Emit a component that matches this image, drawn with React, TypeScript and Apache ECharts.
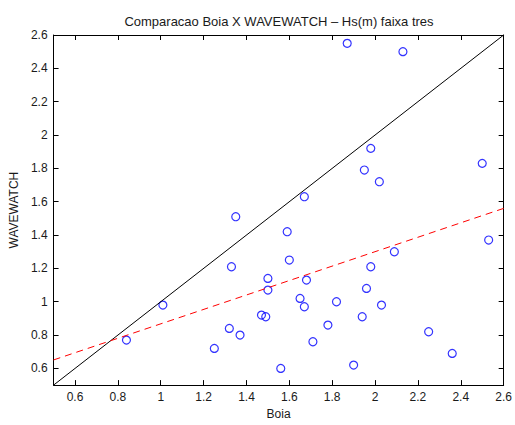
import React, { useEffect, useRef } from "react";
import * as echarts from "echarts";

const titleText = "Comparacao Boia X WAVEWATCH \u2013 Hs(m) faixa tres";
const xName = "Boia";
const yName = "WAVEWATCH";

const boia = [0.84, 1.01, 1.25, 1.32, 1.37, 1.35, 1.33, 1.5, 1.5, 1.68, 1.96, 1.65, 1.67, 1.82, 2.03, 1.47, 1.49, 1.94, 1.78, 2.25, 1.71, 2.36, 1.9, 1.56, 1.98, 1.95, 2.02, 2.5, 1.67, 1.59, 1.6, 2.09, 1.98, 2.53, 1.87, 2.13];
const wavewatch = [0.77, 0.98, 0.72, 0.84, 0.8, 1.51, 1.21, 1.14, 1.07, 1.13, 1.08, 1.02, 0.97, 1.0, 0.98, 0.92, 0.91, 0.91, 0.86, 0.82, 0.76, 0.69, 0.62, 0.6, 1.92, 1.79, 1.72, 1.83, 1.63, 1.42, 1.25, 1.3, 1.21, 1.37, 2.55, 2.5];

const idealX = [0.5, 2.6];
const idealY = [0.5, 2.6];
const fitX = [0.5, 2.6];
const fitY = [0.651, 1.56];

const xTicks = [0.6, 0.8, 1, 1.2, 1.4, 1.6, 1.8, 2, 2.2, 2.4, 2.6];
const yTicks = [0.6, 0.8, 1, 1.2, 1.4, 1.6, 1.8, 2, 2.2, 2.4, 2.6];

const FONT = "'Liberation Sans', Arial, Helvetica, sans-serif";
const TXT = "#1a1a1a";

export default function App() {
  const ref = useRef<HTMLDivElement>(null);
  useEffect(() => {
    if (!ref.current) return;
    const chart = echarts.init(ref.current, null, { renderer: "svg" });
    const axisCommon = {
      type: "value" as const,
      min: 0.5,
      max: 2.6,
      splitLine: { show: false },
      axisLine: { show: true, onZero: false, lineStyle: { color: "#000", width: 1 } },
    };
    chart.setOption({
      animation: false,
      backgroundColor: "#fff",
      textStyle: { fontFamily: FONT },
      grid: { left: 52, right: 9, top: 35, bottom: 32, containLabel: false },
      graphic: [
        {
          type: "text",
          x: 279,
          y: 21,
          style: {
            text: titleText,
            font: `13px ${FONT}`,
            fill: TXT,
            textAlign: "center",
            textVerticalAlign: "middle",
          },
        },
      ],
      xAxis: [
        {
          ...axisCommon,
          position: "bottom",
          name: xName,
          nameLocation: "middle",
          nameGap: 20,
          nameTextStyle: { fontSize: 12, color: TXT, fontFamily: FONT },
          axisTick: { show: true, inside: true, length: 5, customValues: xTicks, lineStyle: { color: "#000" } },
          axisLabel: { show: true, margin: 6, fontSize: 12, color: TXT, fontFamily: FONT, customValues: xTicks, showMaxLabel: true, showMinLabel: true },
        },
        {
          ...axisCommon,
          position: "top",
          axisTick: { show: true, inside: true, length: 5, customValues: xTicks, lineStyle: { color: "#000" } },
          axisLabel: { show: false },
        },
      ],
      yAxis: [
        {
          ...axisCommon,
          position: "left",
          name: yName,
          nameLocation: "middle",
          nameGap: 29,
          nameRotate: 90,
          nameTextStyle: { fontSize: 12, color: TXT, fontFamily: FONT },
          axisTick: { show: true, inside: true, length: 5, customValues: yTicks, lineStyle: { color: "#000" } },
          axisLabel: { show: true, margin: 6, fontSize: 12, color: TXT, fontFamily: FONT, customValues: yTicks, showMaxLabel: true, showMinLabel: true },
        },
        {
          ...axisCommon,
          position: "right",
          axisTick: { show: true, inside: true, length: 5, customValues: yTicks, lineStyle: { color: "#000" } },
          axisLabel: { show: false },
        },
      ],
      series: [
        {
          type: "line",
          data: idealX.map((x, i) => [x, idealY[i]]),
          symbol: "none",
          silent: true,
          clip: true,
          lineStyle: { color: "#000", width: 1 },
        },
        {
          type: "line",
          data: fitX.map((x, i) => [x, fitY[i]]),
          symbol: "none",
          silent: true,
          clip: true,
          lineStyle: { color: "#ff0000", width: 1, type: [7, 5] },
        },
        {
          type: "scatter",
          data: boia.map((x, i) => [x, wavewatch[i]]),
          symbol: "circle",
          symbolSize: 8,
          itemStyle: { color: "rgba(0,0,0,0)", borderColor: "#0000ff", borderWidth: 1.2 },
        },
      ],
    });
    return () => chart.dispose();
  }, []);
  return <div ref={ref} style={{ position: "fixed", left: 0, top: 0, width: 515, height: 425 }} />;
}
